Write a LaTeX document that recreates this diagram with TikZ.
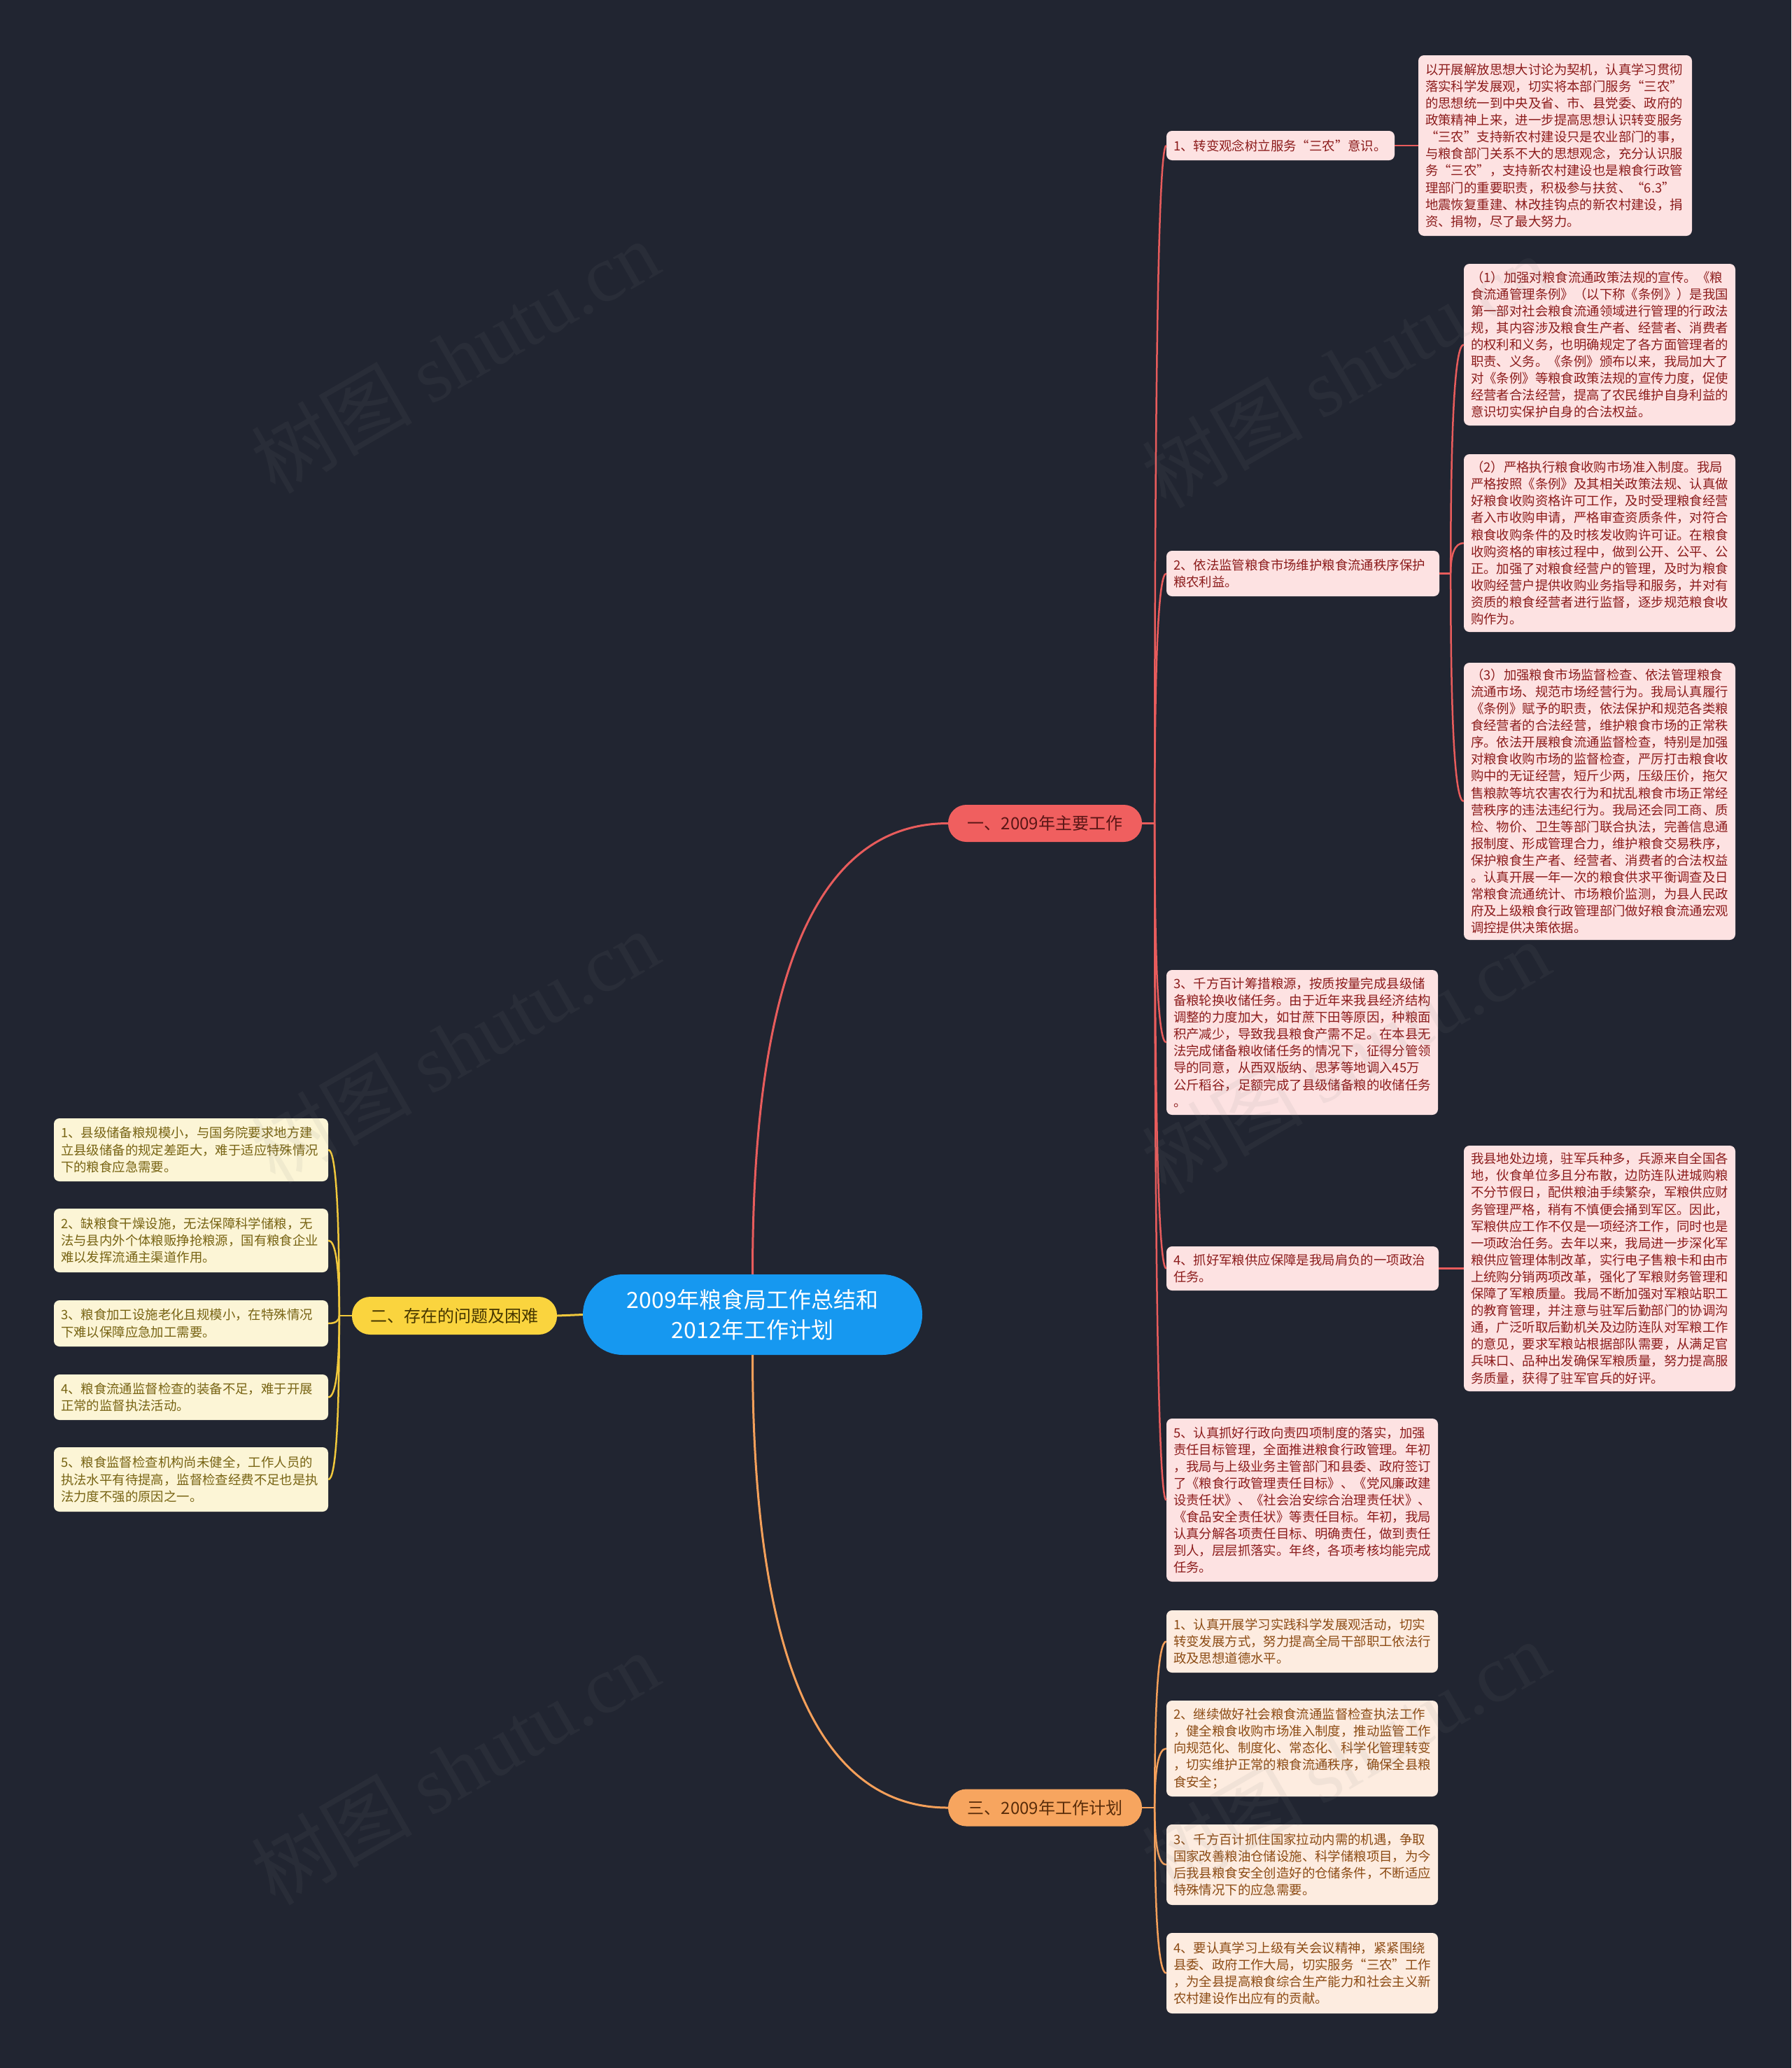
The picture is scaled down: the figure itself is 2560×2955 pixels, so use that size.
\documentclass[tikz,border=0pt]{standalone}
\usepackage{fontspec}
\setmainfont{Noto Sans CJK SC}
\newfontfamily\wmlatin{Liberation Serif}
\usetikzlibrary{calc}
\definecolor{cbg}{RGB}{33,37,49}
\definecolor{cctr}{RGB}{22,152,240}
\definecolor{credp}{RGB}{240,95,95}
\definecolor{credl}{RGB}{232,92,92}
\definecolor{credf}{RGB}{253,226,226}
\definecolor{credt}{RGB}{140,28,28}
\definecolor{credpt}{RGB}{90,22,22}
\definecolor{corp}{RGB}{247,165,95}
\definecolor{corl}{RGB}{245,160,90}
\definecolor{corf}{RGB}{253,236,224}
\definecolor{cort}{RGB}{140,75,20}
\definecolor{corpt}{RGB}{90,45,10}
\definecolor{cylp}{RGB}{250,212,62}
\definecolor{cyll}{RGB}{240,200,60}
\definecolor{cylf}{RGB}{252,245,214}
\definecolor{cylt}{RGB}{120,100,20}
\definecolor{cylpt}{RGB}{70,55,0}
\tikzset{
 txtbox/.style={rectangle, rounded corners=8pt, inner xsep=10pt, inner ysep=0pt, align=left, font=\fontsize{18.4pt}{24.1pt}\selectfont},
 redbox/.style={txtbox, fill=credf, text=credt},
 orbox/.style={txtbox, fill=corf, text=cort},
 ylbox/.style={txtbox, fill=cylf, text=cylt},
 pill/.style={rectangle, rounded corners=26pt, inner sep=0pt, minimum width=277pt, minimum height=53pt, font=\fontsize{24pt}{28pt}\selectfont},
 rl/.style={draw=credl, line width=2.5pt},
 ol/.style={draw=corl, line width=2.5pt},
 yl/.style={draw=cyll, line width=2.5pt},
 qc/.style={to path={.. controls ($(\tikztostart)!0.667!(\tikztostart |- \tikztotarget)$) and ($(\tikztotarget)!0.667!(\tikztostart |- \tikztotarget)$) .. (\tikztotarget)}},
 wm/.style={font=\fontsize{115pt}{115pt}\selectfont, text=gray, text opacity=0.09, rotate=30},
}
\begin{document}
\begin{tikzpicture}[x=1pt,y=-1pt]
\useasboundingbox (0,0) rectangle (2560,2955);
\fill[cbg] (0,0) rectangle (2560,2955);

% central and first-level nodes
\node[pill, fill=cctr, text=white, minimum width=485pt, minimum height=115pt, rounded corners=57pt, align=center, font=\fontsize{32pt}{43pt}\selectfont] (ctr) at (1075.5,1878.5) {2009年粮食局工作总结和\\2012年工作计划};
\node[pill, fill=credp, text=credpt] (r1) at (1493.5,1176.5) {一、2009年主要工作};
\node[pill, fill=cylp, text=cylpt, minimum width=293pt, minimum height=54pt] (y0) at (649.5,1880) {二、存在的问题及困难};
\node[pill, fill=corp, text=corpt] (o0) at (1493.5,2583) {三、2009年工作计划};

% red branch
\node[redbox, text width=306pt, minimum height=42pt] (c1) at (1830,208) {1、转变观念树立服务“三农”意识。};
\node[redbox, text width=371pt, minimum height=258pt] (d1) at (2222.5,208) {以开展解放思想大讨论为契机，认真学习贯彻\\落实科学发展观，切实将本部门服务“三农”\\的思想统一到中央及省、市、县党委、政府的\\政策精神上来，进一步提高思想认识转变服务\\“三农”支持新农村建设只是农业部门的事，\\与粮食部门关系不大的思想观念，充分认识服\\务“三农”，支持新农村建设也是粮食行政管\\理部门的重要职责，积极参与扶贫、“6.3”\\地震恢复重建、林改挂钩点的新农村建设，捐\\资、捐物，尽了最大努力。};
\node[redbox, text width=370pt, minimum height=65pt] (c2) at (1862,819.5) {2、依法监管粮食市场维护粮食流通秩序保护\\粮农利益。};
\node[redbox, text width=368pt, minimum height=231pt] (e1) at (2286,492.5) {（1）加强对粮食流通政策法规的宣传。《粮\\食流通管理条例》（以下称《条例》）是我国\\第一部对社会粮食流通领域进行管理的行政法\\规，其内容涉及粮食生产者、经营者、消费者\\的权利和义务，也明确规定了各方面管理者的\\职责、义务。《条例》颁布以来，我局加大了\\对《条例》等粮食政策法规的宣传力度，促使\\经营者合法经营，提高了农民维护自身利益的\\意识切实保护自身的合法权益。};
\node[redbox, text width=368pt, minimum height=254pt] (e2) at (2286,776) {（2）严格执行粮食收购市场准入制度。我局\\严格按照《条例》及其相关政策法规、认真做\\好粮食收购资格许可工作，及时受理粮食经营\\者入市收购申请，严格审查资质条件，对符合\\粮食收购条件的及时核发收购许可证。在粮食\\收购资格的审核过程中，做到公开、公平、公\\正。加强了对粮食经营户的管理，及时为粮食\\收购经营户提供收购业务指导和服务，并对有\\资质的粮食经营者进行监督，逐步规范粮食收\\购作为。};
\node[redbox, text width=368pt, minimum height=396pt] (e3) at (2286,1145) {（3）加强粮食市场监督检查、依法管理粮食\\流通市场、规范市场经营行为。我局认真履行\\《条例》赋予的职责，依法保护和规范各类粮\\食经营者的合法经营，维护粮食市场的正常秩\\序。依法开展粮食流通监督检查，特别是加强\\对粮食收购市场的监督检查，严厉打击粮食收\\购中的无证经营，短斤少两，压级压价，拖欠\\售粮款等坑农害农行为和扰乱粮食市场正常经\\营秩序的违法违纪行为。我局还会同工商、质\\检、物价、卫生等部门联合执法，完善信息通\\报制度、形成管理合力，维护粮食交易秩序，\\保护粮食生产者、经营者、消费者的合法权益\\。认真开展一年一次的粮食供求平衡调查及日\\常粮食流通统计、市场粮价监测，为县人民政\\府及上级粮食行政管理部门做好粮食流通宏观\\调控提供决策依据。};
\node[redbox, text width=368pt, minimum height=207pt] (c3) at (1861,1489.5) {3、千方百计筹措粮源，按质按量完成县级储\\备粮轮换收储任务。由于近年来我县经济结构\\调整的力度加大，如甘蔗下田等原因，种粮面\\积产减少，导致我县粮食产需不足。在本县无\\法完成储备粮收储任务的情况下，征得分管领\\导的同意，从西双版纳、思茅等地调入45万\\公斤稻谷，足额完成了县级储备粮的收储任务\\。};
\node[redbox, text width=369pt, minimum height=63pt] (c4) at (1861.5,1812.5) {4、抓好军粮供应保障是我局肩负的一项政治\\任务。};
\node[redbox, text width=368pt, minimum height=351pt] (d4) at (2286,1812.5) {我县地处边境，驻军兵种多，兵源来自全国各\\地，伙食单位多且分布散，边防连队进城购粮\\不分节假日，配供粮油手续繁杂，军粮供应财\\务管理严格，稍有不慎便会捅到军区。因此，\\军粮供应工作不仅是一项经济工作，同时也是\\一项政治任务。去年以来，我局进一步深化军\\粮供应管理体制改革，实行电子售粮卡和由市\\上统购分销两项改革，强化了军粮财务管理和\\保障了军粮质量。我局不断加强对军粮站职工\\的教育管理，并注意与驻军后勤部门的协调沟\\通，广泛听取后勤机关及边防连队对军粮工作\\的意见，要求军粮站根据部队需要，从满足官\\兵味口、品种出发确保军粮质量，努力提高服\\务质量，获得了驻军官兵的好评。};
\node[redbox, text width=368pt, minimum height=233pt] (c5) at (1861,2143.5) {5、认真抓好行政向责四项制度的落实，加强\\责任目标管理，全面推进粮食行政管理。年初\\，我局与上级业务主管部门和县委、政府签订\\了《粮食行政管理责任目标》、《党风廉政建\\设责任状》、《社会治安综合治理责任状》、\\《食品安全责任状》等责任目标。年初，我局\\认真分解各项责任目标、明确责任，做到责任\\到人，层层抓落实。年终，各项考核均能完成\\任务。};

% orange branch
\node[orbox, text width=368pt, minimum height=89pt] (o1) at (1861,2345.5) {1、认真开展学习实践科学发展观活动，切实\\转变发展方式，努力提高全局干部职工依法行\\政及思想道德水平。};
\node[orbox, text width=368pt, minimum height=137pt] (o2) at (1861,2498.5) {2、继续做好社会粮食流通监督检查执法工作\\，健全粮食收购市场准入制度，推动监管工作\\向规范化、制度化、常态化、科学化管理转变\\，切实维护正常的粮食流通秩序，确保全县粮\\食安全；};
\node[orbox, text width=368pt, minimum height=115pt] (o3) at (1861,2664.5) {3、千方百计抓住国家拉动内需的机遇，争取\\国家改善粮油仓储设施、科学储粮项目，为今\\后我县粮食安全创造好的仓储条件，不断适应\\特殊情况下的应急需要。};
\node[orbox, text width=368pt, minimum height=115pt] (o4) at (1861,2819.5) {4、要认真学习上级有关会议精神，紧紧围绕\\县委、政府工作大局，切实服务“三农”工作\\，为全县提高粮食综合生产能力和社会主义新\\农村建设作出应有的贡献。};

% yellow branch
\node[ylbox, text width=372pt, minimum height=90pt] (y1) at (273,1643) {1、县级储备粮规模小，与国务院要求地方建\\立县级储备的规定差距大，难于适应特殊情况\\下的粮食应急需要。};
\node[ylbox, text width=372pt, minimum height=91pt] (y2) at (273,1772.5) {2、缺粮食干燥设施，无法保障科学储粮，无\\法与县内外个体粮贩挣抢粮源，国有粮食企业\\难以发挥流通主渠道作用。};
\node[ylbox, text width=372pt, minimum height=66pt] (y3) at (273,1891) {3、粮食加工设施老化且规模小，在特殊情况\\下难以保障应急加工需要。};
\node[ylbox, text width=372pt, minimum height=65pt] (y4) at (273,1996.5) {4、粮食流通监督检查的装备不足，难于开展\\正常的监督执法活动。};
\node[ylbox, text width=372pt, minimum height=92pt] (y5) at (273,2114) {5、粮食监督检查机构尚未健全，工作人员的\\执法水平有待提高，监督检查经费不足也是执\\法力度不强的原因之一。};

% connectors from the centre
\draw[rl, line width=3pt] (ctr.north) to[qc] (r1.west);
\draw[ol, line width=3pt] (ctr.south) to[qc] (o0.west);
\draw[yl, line width=3pt] (ctr.west) -- (y0.east);

% red children
\coordinate (rt) at ($(r1.east)+(18,0)$);
\draw[rl] (r1.east) -- (rt);
\draw[rl] (rt) to[qc] (c1.west);
\draw[rl] (rt) to[qc] (c2.west);
\draw[rl] (rt) to[qc] (c3.west);
\draw[rl] (rt) to[qc] (c4.west);
\draw[rl] (rt) to[qc] (c5.west);
\draw[rl] (c1.east) -- (d1.west);
\coordinate (c2t) at ($(c2.east)+(16,0)$);
\draw[rl] (c2.east) -- (c2t);
\draw[rl] (c2t) to[qc] (e1.west);
\draw[rl] (c2t) to[qc] (e2.west);
\draw[rl] (c2t) to[qc] (e3.west);
\draw[rl] (c4.east) -- (d4.west);

% orange children
\coordinate (ot) at ($(o0.east)+(18,0)$);
\draw[ol] (o0.east) -- (ot);
\draw[ol] (ot) to[qc] (o1.west);
\draw[ol] (ot) to[qc] (o2.west);
\draw[ol] (ot) to[qc] (o3.west);
\draw[ol] (ot) to[qc] (o4.west);

% yellow children
\coordinate (yt) at ($(y0.west)+(-18,0)$);
\draw[yl] (y0.west) -- (yt);
\draw[yl] (yt) to[qc] (y1.east);
\draw[yl] (yt) to[qc] (y2.east);
\draw[yl] (yt) to[qc] (y3.east);
\draw[yl] (yt) to[qc] (y4.east);
\draw[yl] (yt) to[qc] (y5.east);

% watermarks
\node[wm] (wm1) at (650,509) {树图 {\wmlatin shutu.cn}};
\node[wm] (wm2) at (1923,530) {树图 {\wmlatin shutu.cn}};
\node[wm] (wm3) at (650,1495) {树图 {\wmlatin shutu.cn}};
\node[wm] (wm4) at (1923,1510) {树图 {\wmlatin shutu.cn}};
\node[wm] (wm5) at (650,2526) {树图 {\wmlatin shutu.cn}};
\node[wm] (wm6) at (1923,2510) {树图 {\wmlatin shutu.cn}};
\end{tikzpicture}
\end{document}
